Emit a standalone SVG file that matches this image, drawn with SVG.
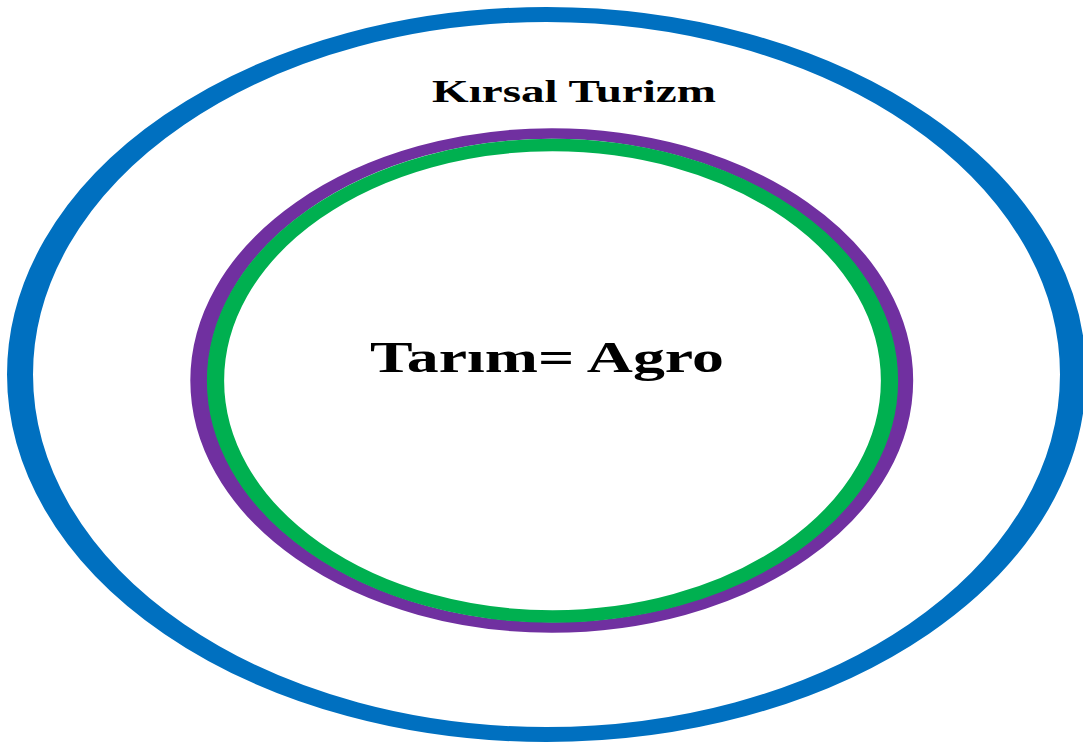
<svg xmlns="http://www.w3.org/2000/svg" width="1083" height="745" viewBox="0 0 1083 745">
<style>
.ring{fill:none}
.lbl{font-family:"Liberation Serif","Times New Roman",serif;font-weight:bold;fill:#000}
</style>
<rect width="1083" height="745" fill="#fff"/>
<g id="outer-kirsal-turizm">
<g transform="translate(546.5,374.5) scale(1.733,1)">
<ellipse class="ring" cx="0" cy="0" rx="303.8" ry="360" stroke="#0070C0" stroke-width="15"/>
</g>
<text class="lbl" x="432" y="102" font-size="32" textLength="284" lengthAdjust="spacingAndGlyphs">Kırsal Turizm</text>
</g>
<g id="middle-purple">
<g transform="translate(551.75,380.5) scale(1.65,1)">
<ellipse class="ring" cx="0" cy="0" rx="213.8" ry="247" stroke="#7030A0" stroke-width="10.5"/>
</g>
</g>
<g id="inner-tarim-agro">
<g transform="translate(552.5,380.75) scale(1.38,1)">
<ellipse class="ring" cx="0" cy="0" rx="244.2" ry="235.75" stroke="#00B050" stroke-width="12.5"/>
</g>
<text class="lbl" x="370" y="372" font-size="44" textLength="354" lengthAdjust="spacingAndGlyphs">Tarım= Agro</text>
</g>
<g id="connectors"/>
</svg>
